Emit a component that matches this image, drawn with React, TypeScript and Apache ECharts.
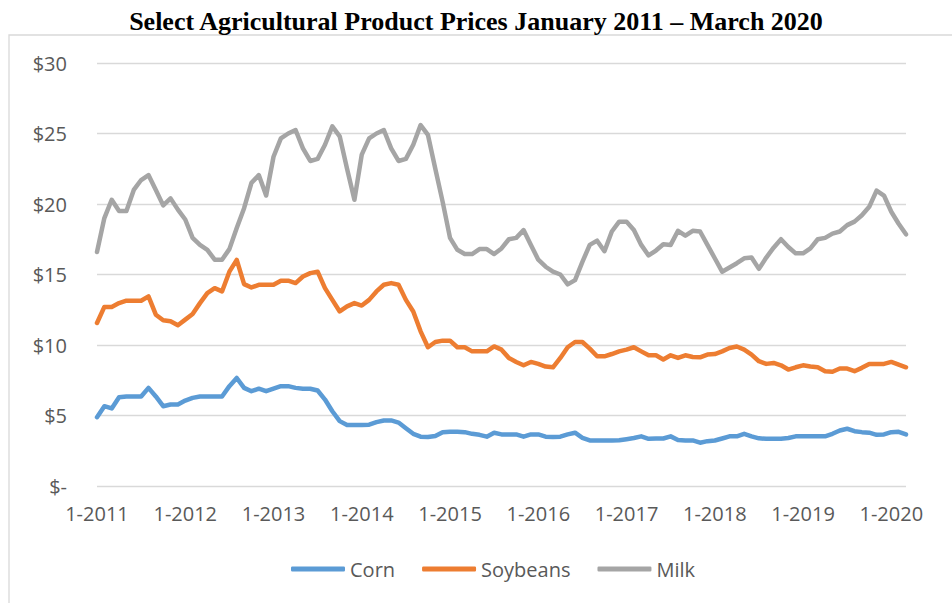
import React, { useEffect, useRef } from "react";
import * as echarts from "echarts";

const years = [2011, 2012, 2013, 2014, 2015, 2016, 2017, 2018, 2019, 2020];
const lastYearMonths = 3;
const categories: string[] = [];
years.forEach((y) => {
  const n = y === 2020 ? lastYearMonths : 12;
  for (let m = 1; m <= n; m++) categories.push(`${m}-${y}`);
});

const corn = [
  4.88, 5.66, 5.5, 6.3, 6.35, 6.35, 6.35, 6.96, 6.35, 5.66, 5.78, 5.78,
  6.06, 6.25, 6.35, 6.35, 6.35, 6.35, 7.08, 7.66, 6.96, 6.72, 6.9, 6.72,
  6.9, 7.08, 7.08, 6.96, 6.9, 6.9, 6.77, 6.13, 5.3, 4.6, 4.32, 4.32,
  4.32, 4.35, 4.53, 4.65, 4.65, 4.5, 4.1, 3.7, 3.5, 3.47, 3.55, 3.82,
  3.84, 3.84, 3.82, 3.7, 3.63, 3.5, 3.78, 3.66, 3.66, 3.66, 3.5, 3.66,
  3.66, 3.5, 3.47, 3.5, 3.66, 3.78, 3.42, 3.23, 3.23, 3.23, 3.23, 3.25,
  3.32, 3.4, 3.52, 3.35, 3.37, 3.37, 3.52, 3.26, 3.23, 3.23, 3.07, 3.18,
  3.23, 3.37, 3.52, 3.52, 3.7, 3.52, 3.38, 3.35, 3.35, 3.35, 3.4, 3.52,
  3.52, 3.52, 3.52, 3.52, 3.7, 3.94, 4.06, 3.89, 3.82, 3.78, 3.63, 3.66,
  3.82, 3.84, 3.66,
];

const soybeans = [
  11.56, 12.7, 12.7, 12.97, 13.14, 13.14, 13.14, 13.45, 12.15, 11.75, 11.68, 11.4,
  11.8, 12.2, 12.97, 13.68, 14.03, 13.8, 15.2, 16.04, 14.32, 14.08, 14.27, 14.27,
  14.27, 14.56, 14.56, 14.39, 14.86, 15.1, 15.2, 14.03, 13.2, 12.38, 12.74, 12.97,
  12.8, 13.2, 13.8, 14.27, 14.39, 14.27, 13.2, 12.38, 10.97, 9.84, 10.21, 10.31,
  10.31, 9.84, 9.84, 9.55, 9.55, 9.55, 9.9, 9.67, 9.08, 8.8, 8.56, 8.8,
  8.66, 8.47, 8.42, 9.08, 9.84, 10.21, 10.21, 9.74, 9.2, 9.2, 9.36, 9.55,
  9.67, 9.84, 9.55, 9.27, 9.27, 8.97, 9.27, 9.08, 9.27, 9.15, 9.13, 9.32,
  9.36, 9.55, 9.79, 9.89, 9.67, 9.32, 8.85, 8.66, 8.73, 8.56, 8.26, 8.42,
  8.56, 8.47, 8.42, 8.14, 8.1, 8.33, 8.33, 8.14, 8.38, 8.66, 8.66, 8.66,
  8.8, 8.61, 8.42,
];

const milk = [
  16.6, 19.0, 20.3, 19.5, 19.5, 21.0, 21.7, 22.05, 21.0, 19.9, 20.4, 19.6,
  18.9, 17.6, 17.1, 16.75, 16.05, 16.05, 16.8, 18.3, 19.7, 21.5, 22.05, 20.6,
  23.35, 24.65, 25.0, 25.25, 23.95, 23.05, 23.2, 24.2, 25.5, 24.8, 22.5, 20.3,
  23.5, 24.65, 25.0, 25.25, 23.95, 23.05, 23.2, 24.2, 25.6, 24.9, 22.5, 20.15,
  17.6, 16.75, 16.45, 16.45, 16.8, 16.8, 16.45, 16.85, 17.5, 17.6, 18.15, 17.1,
  16.05, 15.55, 15.2, 15.0, 14.3, 14.6, 15.9, 17.1, 17.4, 16.65, 18.05, 18.75,
  18.75, 18.15, 17.1, 16.35, 16.7, 17.15, 17.1, 18.1, 17.75, 18.1, 18.05, 17.1,
  16.15, 15.2, 15.5, 15.8, 16.15, 16.2, 15.4, 16.2, 16.9, 17.5, 16.95, 16.5,
  16.5, 16.85, 17.5, 17.6, 17.9, 18.05, 18.5, 18.75, 19.2, 19.8, 20.95, 20.6,
  19.45, 18.6, 17.85,
];

const seriesNames = ["Corn", "Soybeans", "Milk"];
const seriesColors = ["#5B9BD5", "#ED7D31", "#A5A5A5"];
const seriesData = [corn, soybeans, milk];

const FONT = "'Open Sans', 'Noto Sans', sans-serif";

export default function App() {
  const ref = useRef<HTMLDivElement>(null);
  useEffect(() => {
    document.body.style.margin = "0";
    const chart = echarts.init(ref.current!, undefined, { renderer: "svg" });
    chart.setOption({
      animation: false,
      backgroundColor: "#ffffff",
      title: {
        text: "Select Agricultural Product Prices January 2011 \u2013 March 2020",
        left: "center",
        top: 3,
        textStyle: {
          fontFamily: "'Liberation Serif', 'Times New Roman', serif",
          fontWeight: "bold",
          fontSize: 26,
          color: "#000000",
        },
      },
      graphic: [
        {
          type: "rect",
          shape: { x: 9, y: 35, width: 960, height: 600 },
          style: { fill: "none", stroke: "#D9D9D9", lineWidth: 1.3 },
          silent: true,
        },
      ],
      legend: {
        data: seriesNames,
        left: 286,
        top: 554,
        itemWidth: 54,
        itemHeight: 5,
        itemGap: 27,
        icon: "roundRect",
        textStyle: { fontFamily: FONT, fontSize: 20, color: "#595959" },
      },
      grid: { left: 97, right: 46, top: 63, bottom: 117 },
      xAxis: {
        type: "category",
        data: categories,
        boundaryGap: false,
        axisLine: { show: false },
        axisTick: { show: false },
        axisLabel: {
          interval: 11,
          margin: 17,
          fontFamily: FONT,
          fontSize: 20,
          color: "#595959",
        },
        splitLine: { show: false },
      },
      yAxis: {
        type: "value",
        min: 0,
        max: 30,
        interval: 5,
        axisLine: { show: false },
        axisTick: { show: false },
        axisLabel: {
          margin: 30,
          fontFamily: FONT,
          fontSize: 20,
          color: "#595959",
          formatter: (v: number) => (v === 0 ? "$-" : `$${v}`),
        },
        splitLine: { lineStyle: { color: "#D9D9D9", width: 1.3 } },
      },
      series: seriesNames.map((name, i) => ({
        name,
        type: "line",
        data: seriesData[i],
        symbol: "none",
        showSymbol: false,
        color: seriesColors[i],
        lineStyle: { width: 4.5, color: seriesColors[i], cap: "round", join: "round" },
      })),
    });
    return () => chart.dispose();
  }, []);
  return <div ref={ref} style={{ width: 952, height: 603 }} />;
}
